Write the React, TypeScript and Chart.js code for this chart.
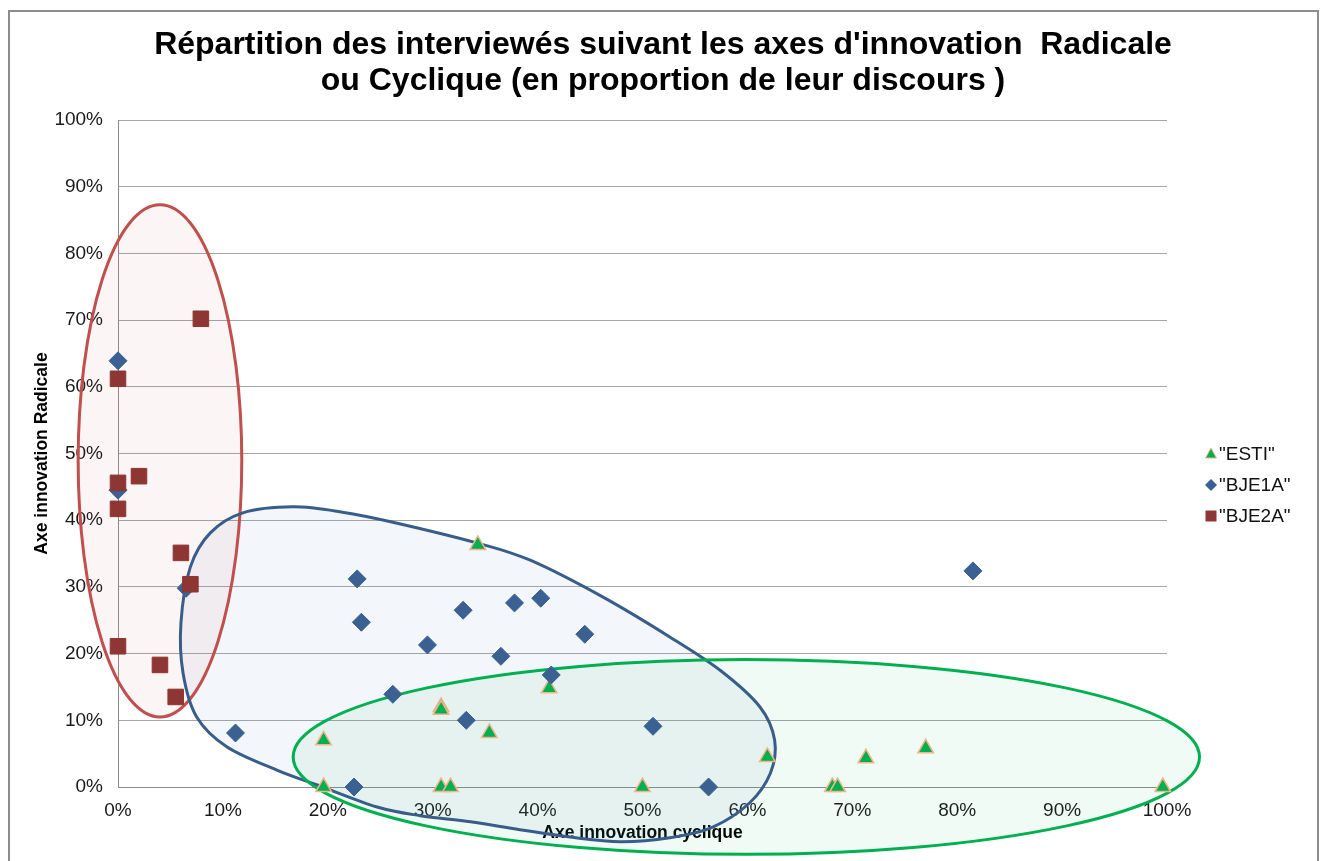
import React, { useEffect, useRef } from "react";
import { Chart, registerables } from "chart.js";

Chart.register(...registerables);

const TITLE_LINES = [
  "Répartition des interviewés suivant les axes d'innovation  Radicale",
  "ou Cyclique (en proportion de leur discours )",
];
const X_TITLE = "Axe innovation cyclique";
const Y_TITLE = "Axe innovation Radicale";
const SERIES_NAMES = ['"ESTI"', '"BJE1A"', '"BJE2A"'];
const AXIS_MIN = 0;
const AXIS_MAX = 100;
const AXIS_STEP = 10;

// "ESTI" (x = axe cyclique %, y = axe radical %)
const estiX = [34.3, 41.1, 30.8, 30.8, 35.4, 19.6, 19.6, 30.8, 31.7, 50.0, 61.9, 68.1, 68.6, 71.3, 77.0, 99.6];
const estiY = [36.3, 14.8, 12.0, 11.6, 8.1, 7.0, 0, 0, 0, 0, 4.5, 0, 0, 4.3, 5.8, 0];

// "BJE1A"
const bje1aX = [0, 0, 6.5, 22.8, 23.2, 32.9, 37.8, 40.3, 44.5, 29.5, 36.5, 41.3, 26.2, 33.2, 51.0, 11.2, 22.5, 56.3, 81.5];
const bje1aY = [63.9, 44.5, 29.8, 31.2, 24.7, 26.5, 27.6, 28.3, 22.9, 21.3, 19.6, 16.8, 13.9, 10.0, 9.1, 8.1, 0, 0, 32.4];

// "BJE2A"
const bje2aX = [7.9, 0, 0, 2.0, 0, 6.0, 6.9, 0, 4.0, 5.5];
const bje2aY = [70.2, 61.2, 45.6, 46.6, 41.7, 35.1, 30.4, 21.1, 18.3, 13.5];

// Grouping outlines, in data units: [centerX, centerY, radiusX, radiusY]
const redEllipse = [4.0, 48.9, 7.8, 38.4];
const greenEllipse = [59.9, 4.5, 43.2, 14.6];
// Blue free-form outline (data units)
const blueOutlineX = [16.7, 21.4, 26.2, 34.2, 39.3, 46.2, 52.6, 57.4, 61.2, 62.6, 62.2, 60.2, 56.7, 52.6, 47.9, 43.1, 38.3, 33.6, 28.8, 24.7, 19.0, 15.2, 10.4, 7.5, 6.2, 6.0, 6.9, 8.8, 11.9];
const blueOutlineY = [42.0, 41.2, 39.7, 36.6, 34.0, 28.5, 22.5, 17.5, 12.0, 7.0, 2.1, -2.4, -6.0, -7.6, -8.2, -7.5, -6.4, -5.2, -4.3, -3.0, 0.3, 2.5, 6.0, 10.5, 17.1, 24.6, 33.0, 38.1, 41.1];

const FONT = "'Liberation Sans', Arial, sans-serif";
const C_GREEN = "#00B050";
const C_TRI_BORDER = "#F2B48A";
const C_BLUE = "#3A6192";
const C_RED = "#8E3634";

const toPts = (xs: number[], ys: number[]) => xs.map((x, i) => ({ x, y: ys[i] }));

const shapesPlugin = {
  id: "shapes",
  beforeDatasetsDraw(chart: any) {
    const { ctx, scales } = chart;
    const xs = scales.x;
    const ys = scales.y;
    const ell = (e: number[]) => {
      const cx = xs.getPixelForValue(e[0]);
      const cy = ys.getPixelForValue(e[1]);
      const rx = Math.abs(xs.getPixelForValue(e[0] + e[2]) - cx);
      const ry = Math.abs(ys.getPixelForValue(e[1] + e[3]) - cy);
      ctx.beginPath();
      ctx.ellipse(cx, cy, rx, ry, 0, 0, Math.PI * 2);
    };
    const blue = () => {
      const p = blueOutlineX.map((x, i) => [xs.getPixelForValue(x), ys.getPixelForValue(blueOutlineY[i])]);
      const n = p.length;
      ctx.beginPath();
      ctx.moveTo(p[0][0], p[0][1]);
      for (let i = 0; i < n; i++) {
        const p0 = p[(i - 1 + n) % n];
        const p1 = p[i];
        const p2 = p[(i + 1) % n];
        const p3 = p[(i + 2) % n];
        const c1x = p1[0] + (p2[0] - p0[0]) / 6;
        const c1y = p1[1] + (p2[1] - p0[1]) / 6;
        const c2x = p2[0] - (p3[0] - p1[0]) / 6;
        const c2y = p2[1] - (p3[1] - p1[1]) / 6;
        ctx.bezierCurveTo(c1x, c1y, c2x, c2y, p2[0], p2[1]);
      }
      ctx.closePath();
    };
    ctx.save();
    ctx.lineWidth = 3;
    ell(redEllipse);
    ctx.fillStyle = "rgba(192,80,77,0.055)";
    ctx.fill();
    blue();
    ctx.fillStyle = "rgba(79,129,189,0.07)";
    ctx.fill();
    ell(greenEllipse);
    ctx.fillStyle = "rgba(0,176,80,0.055)";
    ctx.fill();
    ell(redEllipse);
    ctx.strokeStyle = "#C0504D";
    ctx.stroke();
    blue();
    ctx.strokeStyle = "#385D8A";
    ctx.stroke();
    ell(greenEllipse);
    ctx.strokeStyle = C_GREEN;
    ctx.stroke();
    ctx.restore();
  },
};

const decorPlugin = {
  id: "decor",
  afterDraw(chart: any) {
    const { ctx } = chart;
    ctx.save();
    ctx.strokeStyle = "#8C8C8C";
    ctx.lineWidth = 2;
    ctx.strokeRect(9, 11, 1309, 870);
    ctx.fillStyle = "#000";
    ctx.font = `bold 32px ${FONT}`;
    ctx.textAlign = "center";
    ctx.textBaseline = "middle";
    ctx.fillText(TITLE_LINES[0], 663, 45);
    ctx.fillText(TITLE_LINES[1], 663, 81);
    const items = [
      { label: SERIES_NAMES[0], kind: "tri" },
      { label: SERIES_NAMES[1], kind: "dia" },
      { label: SERIES_NAMES[2], kind: "sq" },
    ];
    const ys = [454, 485, 516];
    ctx.font = `19px ${FONT}`;
    ctx.textAlign = "left";
    items.forEach((it, i) => {
      const cx = 1211;
      const cy = ys[i];
      ctx.beginPath();
      if (it.kind === "tri") {
        ctx.moveTo(cx, cy - 6);
        ctx.lineTo(cx + 5.5, cy + 4);
        ctx.lineTo(cx - 5.5, cy + 4);
        ctx.closePath();
        ctx.fillStyle = C_GREEN;
        ctx.fill();
        ctx.strokeStyle = C_TRI_BORDER;
        ctx.lineWidth = 1;
        ctx.stroke();
      } else if (it.kind === "dia") {
        ctx.moveTo(cx, cy - 6);
        ctx.lineTo(cx + 6, cy);
        ctx.lineTo(cx, cy + 6);
        ctx.lineTo(cx - 6, cy);
        ctx.closePath();
        ctx.fillStyle = C_BLUE;
        ctx.fill();
      } else {
        ctx.rect(cx - 5.5, cy - 5.5, 11, 11);
        ctx.fillStyle = C_RED;
        ctx.fill();
      }
      ctx.fillStyle = "#111";
      ctx.fillText(it.label, 1219, cy + 1);
    });
    ctx.restore();
  },
};

export default function App() {
  const ref = useRef<HTMLCanvasElement | null>(null);
  useEffect(() => {
    if (!ref.current) return;
    const chart = new Chart(ref.current, {
      type: "scatter",
      data: {
        datasets: [
          {
            label: SERIES_NAMES[0],
            data: toPts(estiX, estiY),
            pointStyle: "triangle",
            pointRadius: 9,
            backgroundColor: C_GREEN,
            borderColor: C_TRI_BORDER,
            borderWidth: 1.5,
            order: 3,
            clip: false,
          },
          {
            label: SERIES_NAMES[1],
            data: toPts(bje1aX, bje1aY),
            pointStyle: "rectRot",
            pointRadius: 9,
            backgroundColor: C_BLUE,
            borderColor: C_BLUE,
            borderWidth: 1,
            order: 2,
            clip: false,
          },
          {
            label: SERIES_NAMES[2],
            data: toPts(bje2aX, bje2aY),
            pointStyle: "rect",
            pointRadius: 11,
            backgroundColor: C_RED,
            borderColor: C_RED,
            borderWidth: 1,
            order: 1,
            clip: false,
          },
        ] as any,
      },
      options: {
        animation: false,
        responsive: false,
        events: [],
        layout: { padding: { left: 0, top: 120, right: 158, bottom: 0 } },
        plugins: {
          legend: { display: false },
          title: { display: false },
          tooltip: { enabled: false },
        },
        scales: {
          x: {
            type: "linear",
            min: AXIS_MIN,
            max: AXIS_MAX,
            afterFit: (s: any) => {
              s.height = 74;
            },
            grid: { display: false },
            border: { display: true, color: "#8C8C8C", width: 1 },
            ticks: {
              stepSize: AXIS_STEP,
              padding: 4,
              color: "#1a1a1a",
              font: { family: FONT, size: 19 },
              callback: (v: any) => `${v}%`,
            },
            title: {
              display: true,
              text: X_TITLE,
              color: "#000",
              font: { family: FONT, size: 17.5, weight: "bold" },
              padding: { top: 0, bottom: 17 },
            },
          },
          y: {
            type: "linear",
            min: AXIS_MIN,
            max: AXIS_MAX,
            afterFit: (s: any) => {
              s.width = 118;
            },
            grid: { display: true, color: "#A6A6A6", lineWidth: 1, drawTicks: false },
            border: { display: true, color: "#8C8C8C", width: 1 },
            ticks: {
              stepSize: AXIS_STEP,
              padding: 15,
              color: "#1a1a1a",
              font: { family: FONT, size: 19 },
              callback: (v: any) => `${v}%`,
            },
            title: {
              display: true,
              text: Y_TITLE,
              color: "#000",
              font: { family: FONT, size: 17.5, weight: "bold" },
              padding: { top: 32, bottom: 0 },
            },
          },
        },
      } as any,
      plugins: [shapesPlugin, decorPlugin],
    });
    return () => chart.destroy();
  }, []);
  return (
    <div style={{ position: "fixed", left: 0, top: 0, width: 1325, height: 861, background: "#fff" }}>
      <canvas ref={ref} width={1325} height={861} style={{ display: "block" }} />
    </div>
  );
}
